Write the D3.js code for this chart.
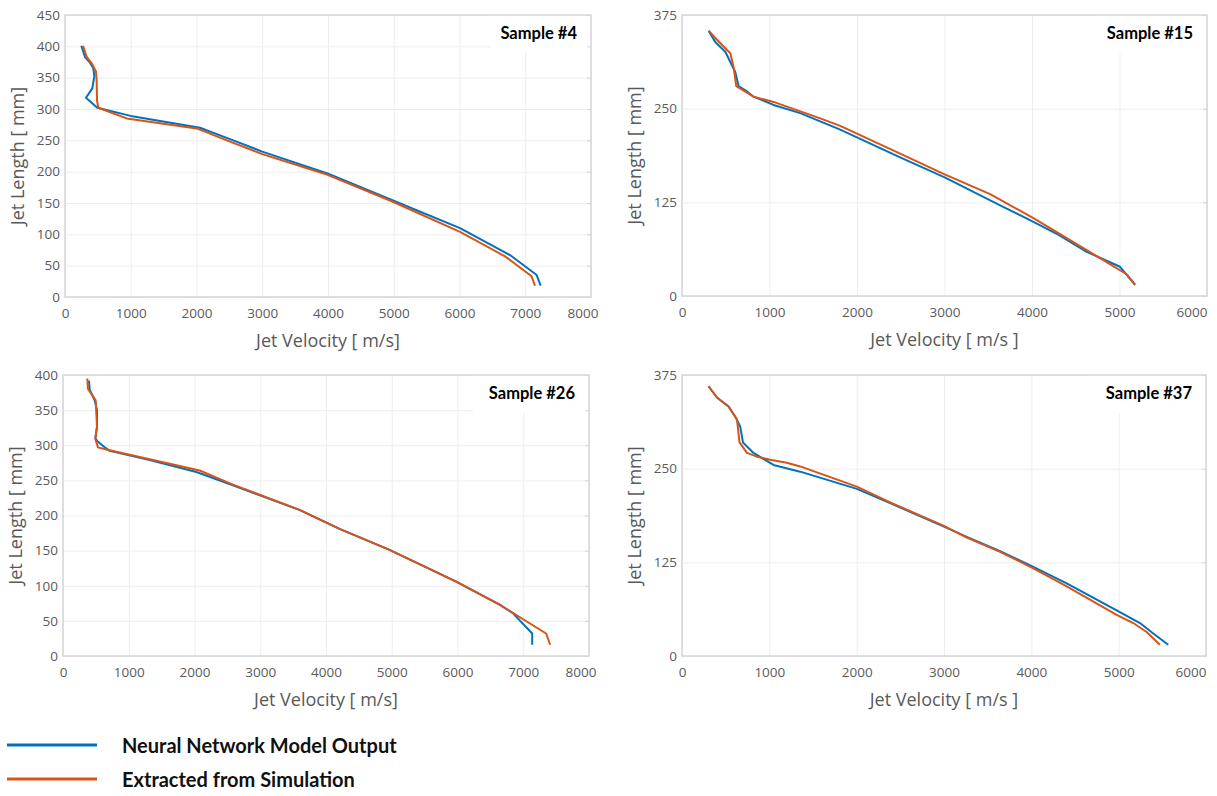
<!DOCTYPE html>
<html lang="en">
<head>
    <meta charset="UTF-8">
    <title>Jet Velocity vs Jet Length - Samples</title>
    <script src="https://d3js.org/d3.v7.min.js"></script>
    <style>
        body { margin: 0; background: #fff; }
        .tick-label { font-family: "Open Sans", sans-serif; font-size: 13.5px; fill: #5a5a5a; }
        .axis-label { font-family: "Open Sans", sans-serif; font-size: 18px; fill: #595959; }
        .panel-title { font-family: Lato, sans-serif; font-weight: bold; font-size: 16.5px; fill: #000; }
        .legend-text { font-family: Lato, sans-serif; font-weight: bold; font-size: 20px; fill: #111; }
        .line { fill: none; stroke-width: 2px; stroke-linejoin: round; }
    </style>
</head>
<body>
<div id="chart"></div>
<script>
    // Each point is [jet velocity (m/s), jet length (mm)]
    const sample4Model = [[248,401],[304,383],[380,374],[431,365],[446,352],[415,333],[319,318],[491,302],[1000,289],[2053,270],[2509,252],[3000,232],[3993,197],[4943,156],[6008,110],[6768,67],[7174,35],[7234,18]];
    const sample4Sim = [[274,401],[330,383],[406,373],[471,360],[481,346],[487,314],[506,302],[938,285],[2003,269],[2509,248],[3000,228],[3993,195],[4943,154],[6008,104],[6692,65],[7097,33],[7148,18]];

    const sample15Model = [[304,354],[380,339],[495,326],[570,308],[609,299],[647,280],[742,273],[818,266],[1046,255],[1351,244],[1808,222],[2493,185],[3008,158],[3636,121],[4016,99],[4300,82],[4625,59],[5006,39],[5178,15]];
    const sample15Sim = [[304,354],[400,342],[552,324],[589,306],[620,280],[818,266],[1046,259],[1580,237],[1808,227],[2493,190],[3008,162],[3522,136],[4016,104],[4245,88],[4871,44],[5082,29],[5178,15]];

    const sample26Model = [[395,392],[406,379],[482,364],[517,350],[517,326],[492,310],[532,305],[634,297],[710,292],[1318,279],[2028,262],[2584,243],[3598,208],[4206,181],[4966,151],[5980,106],[6640,73],[6841,61],[7136,32],[7136,16]];
    const sample26Sim = [[370,395],[380,380],[497,364],[517,326],[492,309],[532,297],[660,294],[1318,280],[2079,264],[2584,244],[3598,208],[4206,181],[4966,151],[5980,106],[6640,73],[7348,32],[7409,16]];

    const sample37Model = [[304,360],[400,345],[533,333],[621,317],[667,306],[698,285],[819,271],[1048,255],[1353,246],[2002,223],[2383,204],[2993,173],[3261,159],[3642,140],[4023,119],[4405,97],[4977,61],[5244,44],[5396,30],[5568,15]];
    const sample37Sim = [[304,360],[400,345],[533,333],[629,316],[659,285],[744,271],[858,266],[1010,262],[1200,258],[1353,253],[2002,226],[2383,205],[2993,174],[3261,158],[3642,139],[4023,117],[4405,93],[4977,55],[5167,44],[5320,32],[5472,15]];

    // tick values
    const velTicks8000 = [0,1000,2000,3000,4000,5000,6000,7000,8000];
    const velTicks6000 = [0,1000,2000,3000,4000,5000,6000];
    const lenTicks450 = [0,50,100,150,200,250,300,350,400,450];
    const lenTicks400 = [0,50,100,150,200,250,300,350,400];
    const lenTicks375 = [0,125,250,375];

    const sampleNames = ["Sample #4", "Sample #15", "Sample #26", "Sample #37"];
    const seriesNames = ["Neural Network Model Output", "Extracted from Simulation"];
    const seriesColors = ["#0072BD", "#D95319"];

    // panel layout (plot area in pixels); lastDx = where the last x label ends, relative to the frame
    const panels = [
        {title: sampleNames[0], model: sample4Model, sim: sample4Sim, xMax: 8000, xTicks: velTicks8000, yMax: 450, yTicks: lenTicks450,
         xLabel: "Jet Velocity [ m/s]", box: {l: 65, t: 15, r: 591, b: 297}, titleBox: 100, lastDx: 7},
        {title: sampleNames[1], model: sample15Model, sim: sample15Sim, xMax: 6000, xTicks: velTicks6000, yMax: 375, yTicks: lenTicks375,
         xLabel: "Jet Velocity [ m/s ]", box: {l: 682, t: 15, r: 1207, b: 296}, titleBox: 110, lastDx: 0},
        {title: sampleNames[2], model: sample26Model, sim: sample26Sim, xMax: 8000, xTicks: velTicks8000, yMax: 400, yTicks: lenTicks400,
         xLabel: "Jet Velocity [ m/s]", box: {l: 63, t: 375, r: 589, b: 656}, titleBox: 116, lastDx: 7},
        {title: sampleNames[3], model: sample37Model, sim: sample37Sim, xMax: 6000, xTicks: velTicks6000, yMax: 375, yTicks: lenTicks375,
         xLabel: "Jet Velocity [ m/s ]", box: {l: 682, t: 375, r: 1206, b: 656}, titleBox: 116, lastDx: 0}
    ];

    const svg = d3.select("#chart").append("svg")
        .attr("width", 1217)
        .attr("height", 796);

    function drawPanel(p) {
        const b = p.box;
        const x = d3.scaleLinear().domain([0, p.xMax]).range([b.l, b.r]);
        const y = d3.scaleLinear().domain([0, p.yMax]).range([b.b, b.t]);
        const g = svg.append("g");

        // grid lines
        g.append("g")
            .attr("transform", `translate(0,${b.b})`)
            .call(d3.axisBottom(x).tickValues(p.xTicks).tickSize(-(b.b - b.t)).tickFormat(""))
            .call(s => s.select(".domain").remove())
            .call(s => s.selectAll("line").attr("stroke", "#ededed").attr("stroke-width", 1));
        g.append("g")
            .attr("transform", `translate(${b.l},0)`)
            .call(d3.axisLeft(y).tickValues(p.yTicks).tickSize(-(b.r - b.l)).tickFormat(""))
            .call(s => s.select(".domain").remove())
            .call(s => s.selectAll("line").attr("stroke", "#ededed").attr("stroke-width", 1));

        // white patch behind the title
        g.append("rect")
            .attr("x", b.r - p.titleBox)
            .attr("y", b.t)
            .attr("width", p.titleBox)
            .attr("height", 38)
            .attr("fill", "#fff");

        // small inward ticks on the right side
        g.append("g")
            .attr("transform", `translate(${b.r},0)`)
            .call(d3.axisLeft(y).tickValues(p.yTicks).tickSize(4).tickFormat(""))
            .call(s => s.select(".domain").remove())
            .call(s => s.selectAll("line").attr("stroke", "#d4d4d4"));

        // the two series
        const line = d3.line().x(d => x(d[0])).y(d => y(d[1]));
        [p.model, p.sim].forEach((data, i) => {
            g.append("path")
                .datum(data)
                .attr("class", "line")
                .attr("stroke", seriesColors[i])
                .attr("d", line);
        });

        // frame
        g.append("rect")
            .attr("x", b.l).attr("y", b.t)
            .attr("width", b.r - b.l).attr("height", b.b - b.t)
            .attr("fill", "none")
            .attr("stroke", "#d6d6d6")
            .attr("stroke-width", 1.5);

        // tick labels
        const xAxis = g.append("g")
            .attr("transform", `translate(0,${b.b})`)
            .call(d3.axisBottom(x).tickValues(p.xTicks).tickSize(0).tickPadding(11).tickFormat(d3.format("d")))
            .call(s => s.select(".domain").remove())
            .call(s => s.selectAll("text").attr("class", "tick-label").attr("fill", null));
        // keep the last label inside the picture
        xAxis.selectAll(".tick").filter(d => d === p.xMax).select("text")
            .attr("text-anchor", "end")
            .attr("x", p.lastDx);
        g.append("g")
            .attr("transform", `translate(${b.l},0)`)
            .call(d3.axisLeft(y).tickValues(p.yTicks).tickSize(0).tickPadding(5).tickFormat(d3.format("d")))
            .call(s => s.select(".domain").remove())
            .call(s => s.selectAll("text").attr("class", "tick-label").attr("fill", null));
        g.selectAll("g").attr("font-family", null).attr("font-size", null);

        // title
        g.append("text")
            .attr("class", "panel-title")
            .attr("x", b.r - 14)
            .attr("y", b.t + 24)
            .attr("text-anchor", "end")
            .text(p.title);

        // axis labels
        g.append("text")
            .attr("class", "axis-label")
            .attr("x", (b.l + b.r) / 2)
            .attr("y", b.b + 50)
            .attr("text-anchor", "middle")
            .text(p.xLabel);
        g.append("text")
            .attr("class", "axis-label")
            .attr("transform", `translate(${b.l - 41},${(b.t + b.b) / 2}) rotate(-90)`)
            .attr("text-anchor", "middle")
            .text("Jet Length [ mm]");
    }

    panels.forEach(drawPanel);

    // legend
    const legend = svg.append("g");
    seriesNames.forEach((name, i) => {
        const ly = 745 + i * 34;
        legend.append("line")
            .attr("x1", 7).attr("x2", 97)
            .attr("y1", ly).attr("y2", ly)
            .attr("stroke", seriesColors[i])
            .attr("stroke-width", 3);
        legend.append("text")
            .attr("class", "legend-text")
            .attr("x", 122)
            .attr("y", ly + 8)
            .text(name);
    });
</script>
</body>
</html>
